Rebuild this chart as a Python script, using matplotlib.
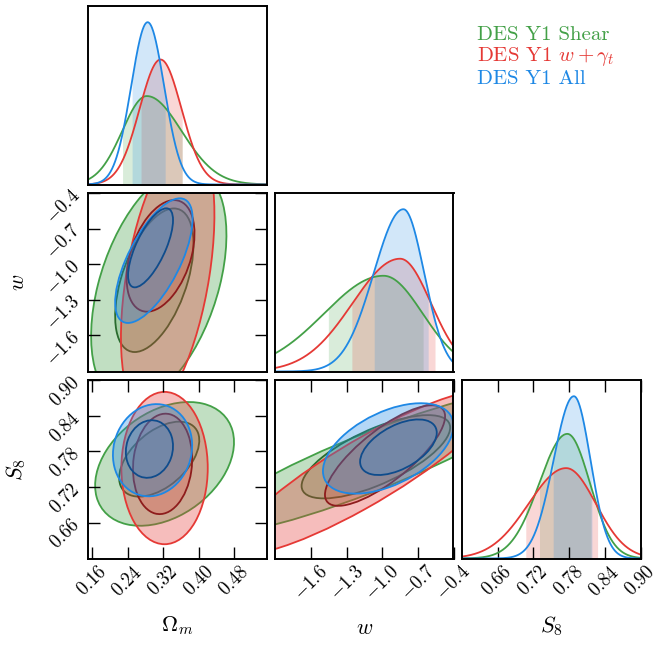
import numpy as np
import matplotlib
matplotlib.use("Agg")
import matplotlib.pyplot as plt
from matplotlib.patches import Ellipse
from matplotlib.colors import to_rgba

plt.rcParams['font.family'] = 'cmr10'
plt.rcParams['mathtext.fontset'] = 'cm'
plt.rcParams['axes.formatter.use_mathtext'] = True

# ––––– chains
chains = ['DES Y1 Shear', r'DES Y1 $w+\gamma_t$', 'DES Y1 All']
colours = ['#43A047', '#E53935', '#1E88E5']
dark_colours = ['#2A6B2E', '#8E1C1C', '#0F4C8C']

# ––––– 1D marginals: mode, lower / upper width, relative peak height, 68% interval
om_mode = [0.283, 0.314, 0.285]
om_sig_lo = [0.055, 0.047, 0.037]
om_sig_hi = [0.078, 0.047, 0.037]
om_peak = [0.545, 0.77, 1.0]
om_lo68 = [0.228, 0.270, 0.250]
om_hi68 = [0.363, 0.363, 0.325]

w_mode = [-0.99, -0.85, -0.822]
w_sig_lo = [0.50, 0.40, 0.25]
w_sig_hi = [0.33, 0.26, 0.175]
w_peak = [0.59, 0.695, 1.0]
w_lo68 = [-1.455, -1.257, -1.069]
w_hi68 = [-0.654, -0.555, -0.611]

s8_mode = [0.777, 0.775, 0.788]
s8_sig_lo = [0.047, 0.063, 0.034]
s8_sig_hi = [0.038, 0.050, 0.028]
s8_peak = [0.768, 0.557, 1.0]
s8_lo68 = [0.730, 0.707, 0.753]
s8_hi68 = [0.817, 0.828, 0.8185]

# ––––– 2D contours: centre x, centre y, half-extent x, half-extent y, correlation
om_w_outer = [[0.310, -1.18, 0.152, 0.99, 0.43],
              [0.330, -1.10, 0.105, 1.15, 0.45],
              [0.299, -0.97, 0.087, 0.525, 0.67]]
om_w_inner = [[0.300, -1.135, 0.088, 0.605, 0.50],
              [0.314, -0.93, 0.0763, 0.47, 0.40],
              [0.2915, -0.862, 0.0505, 0.333, 0.70]]

om_s8_outer = [[0.323, 0.759, 0.156, 0.104, 0.35],
               [0.323, 0.752, 0.097, 0.128, 0.0],
               [0.296, 0.782, 0.089, 0.0775, 0.1]]
om_s8_inner = [[0.311, 0.767, 0.090, 0.063, 0.50],
               [0.3185, 0.759, 0.0665, 0.0844, 0.1],
               [0.289, 0.784, 0.053, 0.0484, 0.1]]

w_s8_outer = [[-1.10, 0.762, 1.40, 0.120, 0.90],
              [-1.15, 0.745, 1.10, 0.137, 0.89],
              [-0.95, 0.785, 0.55, 0.076, 0.50]]
w_s8_inner = [[-1.054, 0.771, 0.626, 0.070, 0.70],
              [-0.977, 0.773, 0.506, 0.0845, 0.78],
              [-0.864, 0.787, 0.323, 0.0467, 0.52]]

# ––––– axes
om_lim = (0.151, 0.552)
w_lim = (-1.904, -0.4)
s8_lim = (0.6, 0.9)
om_ticks = [0.16, 0.24, 0.32, 0.40, 0.48]
w_ticks = [-1.6, -1.3, -1.0, -0.7, -0.4]
s8_ticks = [0.66, 0.72, 0.78, 0.84, 0.90]
om_labels = ['0.16', '0.24', '0.32', '0.40', '0.48']
w_labels = ['-1.6', '-1.3', '-1.0', '-0.7', '-0.4']
s8_labels = ['0.66', '0.72', '0.78', '0.84', '0.90']

W_PX, H_PX = 664, 647
fig = plt.figure(figsize=(W_PX / 100, H_PX / 100), dpi=100)

lefts = [88, 275, 462]
tops = [6, 193, 380]
size = 178.5


def make_ax(row, col):
    return fig.add_axes([lefts[col] / W_PX, 1 - (tops[row] + size) / H_PX,
                         size / W_PX, size / H_PX])


def style(ax):
    for s in ax.spines.values():
        s.set_linewidth(1.4)
    ax.tick_params(direction='in', length=8.5, width=1.0, top=True, right=True,
                   labelsize=13.5, pad=3)


def split_normal(x, mode, s_lo, s_hi, peak):
    s = np.where(x < mode, s_lo, s_hi)
    return peak * np.exp(-0.5 * ((x - mode) / s) ** 2)


def plot_1d(ax, lim, mode, s_lo, s_hi, peak, lo, hi):
    x = np.linspace(lim[0], lim[1], 600)
    for i in range(3):
        y = split_normal(x, mode[i], s_lo[i], s_hi[i], peak[i])
        m = (x >= lo[i]) & (x <= hi[i])
        ax.fill_between(x[m], 0, y[m], color=colours[i], alpha=0.2, lw=0)
        ax.plot(x, y, color=colours[i], lw=1.3)
    ax.set_xlim(lim)
    ax.set_ylim(0, 1.1 * max(peak))


def ellipse(p, **kw):
    cx, cy, sx, sy, rho = p
    cov = np.array([[sx ** 2, rho * sx * sy], [rho * sx * sy, sy ** 2]])
    vals, vecs = np.linalg.eigh(cov)
    ang = np.degrees(np.arctan2(vecs[1, 1], vecs[0, 1]))
    return Ellipse((cx, cy), 2 * np.sqrt(vals[1]), 2 * np.sqrt(vals[0]), angle=ang, **kw)


def plot_2d(ax, outer, inner, xlim, ylim):
    for i in range(3):
        ax.add_patch(ellipse(outer[i], facecolor=to_rgba(colours[i], 0.33),
                             edgecolor=colours[i], lw=1.3))
        ax.add_patch(ellipse(inner[i], facecolor=to_rgba(colours[i], 0.22),
                             edgecolor=dark_colours[i], lw=1.3))
    ax.set_xlim(xlim)
    ax.set_ylim(ylim)


def math_labels(labels):
    return ['$' + l + '$' for l in labels]


# diagonal
ax00 = make_ax(0, 0)
plot_1d(ax00, om_lim, om_mode, om_sig_lo, om_sig_hi, om_peak, om_lo68, om_hi68)
ax11 = make_ax(1, 1)
plot_1d(ax11, w_lim, w_mode, w_sig_lo, w_sig_hi, w_peak, w_lo68, w_hi68)
ax22 = make_ax(2, 2)
plot_1d(ax22, s8_lim, s8_mode, s8_sig_lo, s8_sig_hi, s8_peak, s8_lo68, s8_hi68)

ax10 = make_ax(1, 0)
plot_2d(ax10, om_w_outer, om_w_inner, om_lim, w_lim)
ax20 = make_ax(2, 0)
plot_2d(ax20, om_s8_outer, om_s8_inner, om_lim, s8_lim)
ax21 = make_ax(2, 1)
plot_2d(ax21, w_s8_outer, w_s8_inner, w_lim, s8_lim)

for a in [ax00, ax11, ax22, ax10, ax20, ax21]:
    style(a)

for a in [ax00, ax11]:
    a.set_xticks([])
    a.set_yticks([])
ax22.set_yticks([])
ax21.set_yticks([])
ax10.set_xticks([])

ax10.set_yticks(w_ticks)
ax10.set_yticklabels(math_labels(w_labels), rotation=45)
ax20.set_yticks(s8_ticks)
ax20.set_yticklabels(math_labels(s8_labels), rotation=45)

ax20.set_xticks(om_ticks)
ax20.set_xticklabels(math_labels(om_labels), rotation=45)
ax21.set_xticks(w_ticks)
ax21.set_xticklabels(math_labels(w_labels), rotation=45)
ax22.set_xticks(s8_ticks)
ax22.set_xticklabels(math_labels(s8_labels), rotation=45)

for a, lab, yy in [(ax20, r'$\Omega_m$', -0.31), (ax21, r'$w$', -0.335), (ax22, r'$S_8$', -0.31)]:
    a.set_xlabel(lab, fontsize=16)
    a.xaxis.set_label_coords(0.5, yy)
for a, lab in [(ax10, r'$w$'), (ax20, r'$S_8$')]:
    a.set_ylabel(lab, fontsize=16)
    a.yaxis.set_label_coords(-0.335, 0.5)

handles = [plt.Line2D([], [], lw=0) for _ in chains]
leg = fig.legend(handles, chains, loc='upper left', bbox_to_anchor=(467 / W_PX, 1 - 15 / H_PX),
                 frameon=False, handlelength=0, handletextpad=0, fontsize=15,
                 labelspacing=0.05, borderpad=0)
for t, c in zip(leg.get_texts(), colours):
    t.set_color(c)

fig.savefig('out.png', dpi=100)
